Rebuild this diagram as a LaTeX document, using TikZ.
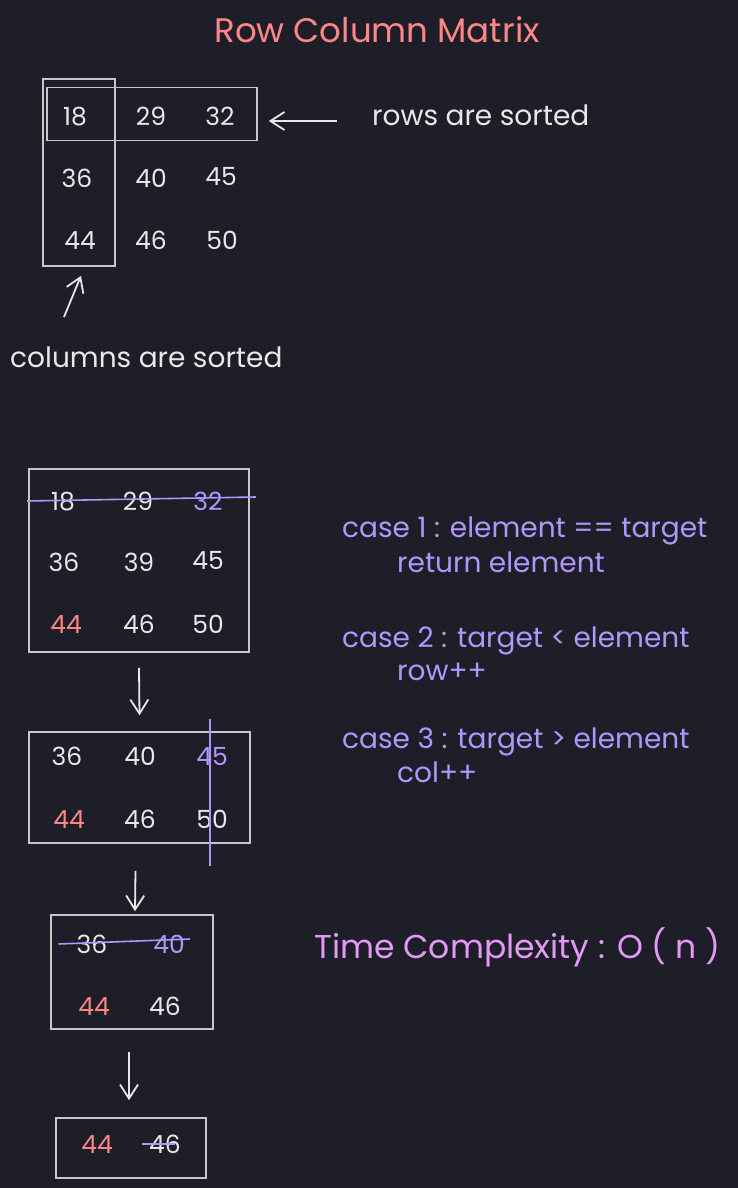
\documentclass[tikz,border=0pt]{standalone}
\usepackage{fontspec}
\setmainfont{Poppins}
\usetikzlibrary{arrows.meta,positioning}
\definecolor{bgdark}{RGB}{30,30,40}
\definecolor{chalk}{RGB}{232,232,232}
\definecolor{edgegrey}{RGB}{200,200,200}
\definecolor{titlered}{RGB}{255,135,135}
\definecolor{casepurp}{RGB}{177,151,252}
\definecolor{timepink}{RGB}{229,153,247}

\begin{document}
\begin{tikzpicture}[x=1pt, y=-1pt,
    every node/.style={font=\fontsize{28}{32}\selectfont, text=chalk, inner sep=0pt},
    num/.style={anchor=base, font=\fontsize{25}{28}\selectfont},
    box/.style={draw=edgegrey, line width=1.6pt},
    arr/.style={draw=chalk, line width=1.8pt, -{Straight Barb[length=14pt,width=18pt]}},
    strike/.style={draw=casepurp, line width=1.6pt},
    note/.style={anchor=base west, text=casepurp}]
  \fill[bgdark] (0,0) rectangle (738,1188);
  \useasboundingbox (0,0) rectangle (738,1188);

  \node[anchor=base, text=titlered, font=\fontsize{34}{38}\selectfont] (title) at (377,43) {Row Column Matrix};

  % sorted matrix
  \node[box, minimum width=72pt, minimum height=187pt] (colbox) at (79,172.5) {};
  \node[box, minimum width=210pt, minimum height=53pt] (rowbox) at (152,114) {};
  \node[num] (a11) at (75,126) {18};  \node[num] (a12) at (151,126) {29}; \node[num] (a13) at (220,126) {32};
  \node[num] (a21) at (77,187) {36};  \node[num] (a22) at (151,187) {40}; \node[num] (a23) at (221,185) {45};
  \node[num] (a31) at (80,249) {44};  \node[num] (a32) at (151,249) {46}; \node[num] (a33) at (222,249) {50};
  \node[anchor=base west] (rowlbl) at (372,126) {rows are sorted};
  \node[anchor=base west] (collbl) at (10,367) {columns are sorted};
  \coordinate (rtail) at (337,121);
  \coordinate (ctail) at (64,317);
  \draw[arr, shorten >=11pt] (rtail) -- (rtail -| rowbox.east);
  \draw[arr] (ctail) -- ([xshift=2pt,yshift=-9pt]colbox.south);

  % search steps
  \node[box, minimum width=220pt, minimum height=183pt] (boxb) at (139,560.5) {};
  \node[num] (b11) at (63,510) {18};  \node[num] (b12) at (138,510) {29};
  \node[num, text=casepurp] (b13) at (208,510) {32};
  \node[num] (b21) at (64,571) {36};  \node[num] (b22) at (139,571) {39}; \node[num] (b23) at (208,569) {45};
  \node[num, text=titlered] (b31) at (66,633) {44};
  \node[num] (b32) at (139,633) {46}; \node[num] (b33) at (208,633) {50};
  \draw[strike] ([xshift=-24pt,yshift=9pt]b11.base west) -- ([xshift=33pt,yshift=13pt]b13.base east);

  \node[box, minimum width=221pt, minimum height=111pt] (boxc) at (139.5,787.5) {};
  \node[num] (c11) at (67,765) {36};  \node[num] (c12) at (140,765) {40};
  \node[num, text=casepurp] (c13) at (212,765) {45};
  \node[num, text=titlered] (c21) at (69,828) {44};
  \node[num] (c22) at (140,828) {46}; \node[num] (c23) at (212,828) {50};
  \draw[strike] ([xshift=-2pt,yshift=28pt]c13.north) -- ([xshift=-2pt,yshift=-38pt]c23.south);

  \node[box, minimum width=162pt, minimum height=114pt] (boxd) at (132,972) {};
  \node[num] (d11) at (92,953) {36};
  \node[num, text=casepurp] (d12) at (169,953) {40};
  \node[num, text=titlered] (d21) at (94,1015) {44};
  \node[num] (d22) at (165,1015) {46};
  \draw[strike] ([xshift=-18pt,yshift=9pt]d11.base west) -- ([xshift=5pt,yshift=14pt]d12.base east);

  \node[box, minimum width=150pt, minimum height=60pt] (boxe) at (131,1148) {};
  \node[num, text=titlered] (e1) at (97,1153) {44};
  \node[num] (e2) at (165,1153) {46};
  \draw[strike] ([xshift=-7pt,yshift=9pt]e2.base west) -- ([xshift=26pt,yshift=9pt]e2.base west);

  \draw[arr] ([yshift=-15pt]boxb.south) -- ([yshift=16pt]boxc.north);
  \draw[arr] ([xshift=-4pt,yshift=-27pt]boxc.south) -- ([xshift=3pt,yshift=3pt]boxd.north);
  \draw[arr] ([xshift=-3pt,yshift=-22pt]boxd.south) -- ([xshift=-2pt,yshift=17pt]boxe.north);

  % cases
  \node[note] (case1) at (342,537) {case 1 : element == target};
  \node[note] (ret) at (397,572) {return element};
  \node[note] (case2) at (342,647) {case 2 : target < element};
  \node[note] (rowpp) at (397,680) {row++};
  \node[note] (case3) at (342,748) {case 3 : target > element};
  \node[note] (colpp) at (397,782) {col++};
  \node[anchor=base west, text=timepink, font=\fontsize{33}{36}\selectfont] (tc) at (314,958) {Time Complexity : O ( n )};
\end{tikzpicture}
\end{document}
